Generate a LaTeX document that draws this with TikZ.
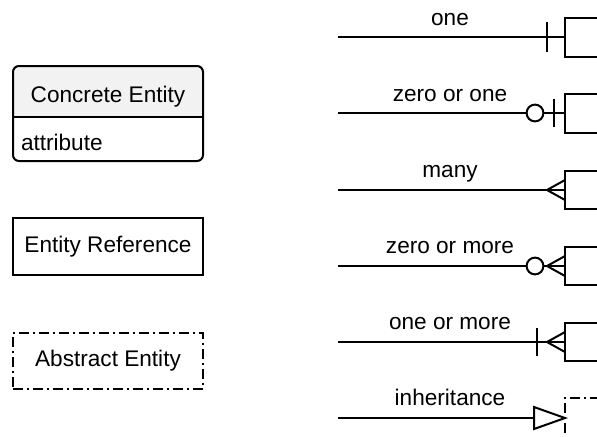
\documentclass[tikz,border=0pt]{standalone}
\usepackage{fontspec}
\setmainfont{Liberation Sans}
\begin{document}
\begin{tikzpicture}[x=0.5pt,y=-0.5pt, line width=1pt,
  lbl/.style={font=\fontsize{11.3}{13}\selectfont, inner sep=0pt, anchor=base},
  ent/.style={draw, line width=1pt, minimum width=95pt, font=\fontsize{11.3}{13}\selectfont},
  absdash/.style={dash pattern=on 5pt off 2pt on 1pt off 2pt},
  stub/.style={draw, line width=1pt},
  endsym/.style={draw, line width=1pt, fill=white}]
\useasboundingbox (0,0) rectangle (597,436);
\definecolor{hdr}{HTML}{F2F2F2}
% Concrete entity
\fill[hdr, rounded corners=3pt] (13,66) rectangle (203,117);
\fill[hdr] (13,90) rectangle (203,117);
\node[ent, rounded corners=3pt, minimum height=47.5pt] (ce) at (108,113.5) {};
\draw (ce.west |- 0,117) -- (ce.east |- 0,117);
\node[lbl] (cet) at (108,102) {Concrete Entity};
\node[lbl, anchor=base west] (attr) at (20,150) {attribute};
% Entity reference
\node[ent, minimum height=28.5pt] (er) at (108,246.5) {Entity Reference};
% Abstract entity
\node[ent, absdash, minimum height=28pt] (ae) at (108,361) {Abstract Entity};

% ---- connectors ----
% one
\coordinate (s1) at (338,37); \coordinate (e1) at (565,37);
\draw (s1) -- (e1);
\draw[stub] (600,18) -- (565,18) -- (565,57) -- (600,57);
\draw (547,22) -- (547,52);
\node[lbl] (l1) at (450,25) {one};
% zero or one
\coordinate (s2) at (338,113); \coordinate (e2) at (565,113);
\draw (s2) -- (e2);
\draw[stub] (600,94) -- (565,94) -- (565,133) -- (600,133);
\draw (554,99) -- (554,127);
\draw[endsym] (535,113) circle (4.2pt);
\node[lbl] (l2) at (450,101) {zero or one};
% many
\coordinate (s3) at (338,190); \coordinate (e3) at (565,190);
\draw (s3) -- (e3);
\draw[stub] (600,171) -- (565,171) -- (565,209) -- (600,209);
\draw (565,180) -- (547,190) -- (565,200);
\node[lbl] (l3) at (450,177) {many};
% zero or more
\coordinate (s4) at (338,266); \coordinate (e4) at (565,266);
\draw (s4) -- (e4);
\draw[stub] (600,247) -- (565,247) -- (565,285) -- (600,285);
\draw (565,256) -- (547,266) -- (565,276);
\draw[endsym] (535,266) circle (4.2pt);
\node[lbl] (l4) at (450,253) {zero or more};
% one or more
\coordinate (s5) at (338,342); \coordinate (e5) at (565,342);
\draw (s5) -- (e5);
\draw[stub] (600,323) -- (565,323) -- (565,361) -- (600,361);
\draw (565,332) -- (547,342) -- (565,352);
\draw (537,328) -- (537,356);
\node[lbl] (l5) at (450,329) {one or more};
% inheritance
\coordinate (s6) at (338,418); \coordinate (e6) at (565,418);
\draw (s6) -- (e6);
\draw[stub, absdash] (600,398) -- (565,398) -- (565,440);
\draw[endsym, line join=miter] (534,407) -- (565,418) -- (534,429) -- cycle;
\node[lbl] (l6) at (450,405) {inheritance};
\end{tikzpicture}
\end{document}
